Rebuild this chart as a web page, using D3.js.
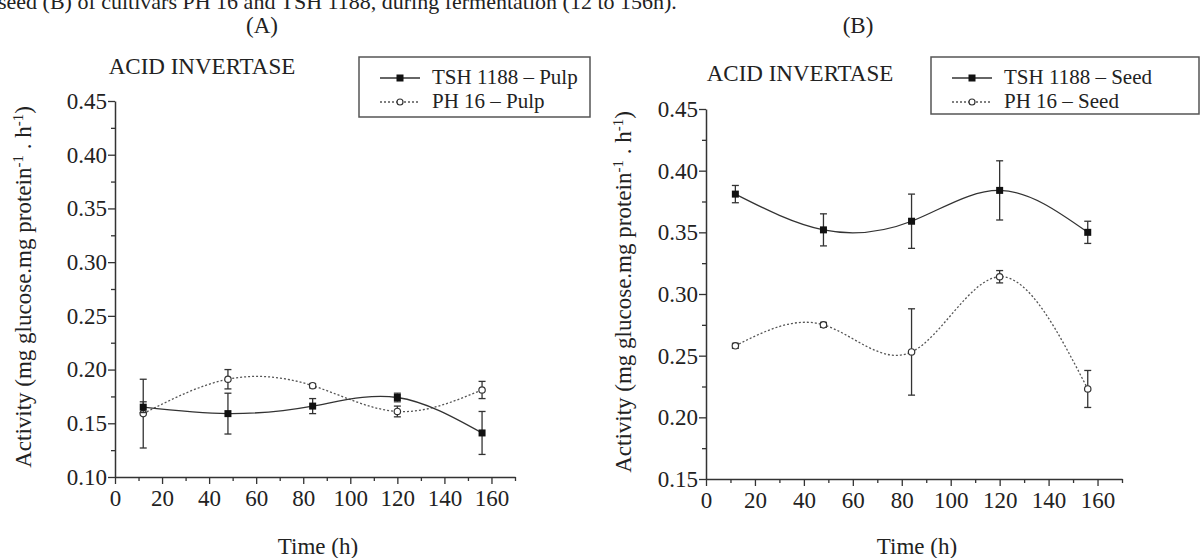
<!DOCTYPE html>
<html>
<head>
<meta charset="utf-8">
<script src="https://cdn.jsdelivr.net/npm/d3@7"></script>
<style>
  body { margin: 0; background: #fff; }
  svg text { font-family: "Liberation Serif", "Times New Roman", serif !important; }
</style>
</head>
<body>
<svg id="chart" width="1201" height="558"></svg>
<script>
// sampling times (h)
var times = [12, 48, 84, 120, 156];

// pulp (A)
var pulpTSH    = [0.165, 0.159, 0.166, 0.174, 0.141];
var pulpTSHErr = [0.005, 0.019, 0.007, 0.004, 0.020];
var pulpPH     = [0.159, 0.191, 0.185, 0.161, 0.181];
var pulpPHErr  = [0.032, 0.009, 0.002, 0.005, 0.008];

// seed (B)
var seedTSH    = [0.381, 0.352, 0.359, 0.384, 0.350];
var seedTSHErr = [0.007, 0.013, 0.022, 0.024, 0.009];
var seedPH     = [0.258, 0.275, 0.253, 0.314, 0.223];
var seedPHErr  = [0.002, 0.002, 0.035, 0.005, 0.015];

var xTicks = [0, 20, 40, 60, 80, 100, 120, 140, 160];
var caption = "seed (B) of cultivars PH 16 and TSH 1188, during fermentation (12 to 156h).";

var svg = d3.select("#chart");
var ink = "#222";

function toPoints(vals, errs) {
    return times.map(function(t, i) { return { t: t, v: vals[i], e: errs[i] }; });
}

// caption line, cut off at the top as in the source figure
svg.append("text")
    .attr("x", -2).attr("y", 9)
    .attr("font-size", 22).attr("fill", ink)
    .text(caption);

function drawPanel(p) {
    var x = d3.scaleLinear().domain([0, 170]).range([p.left, p.right]);
    var y = d3.scaleLinear().domain(p.yDomain).range([p.bottom, p.top]);
    var g = svg.append("g");

    // panel letter + title
    g.append("text").attr("x", p.letterX).attr("y", 33)
        .attr("text-anchor", "middle").attr("font-size", 23).attr("fill", ink)
        .text(p.letter);
    g.append("text").attr("x", p.titleX).attr("y", p.titleY)
        .attr("text-anchor", "middle").attr("font-size", 23).attr("fill", ink)
        .text("ACID INVERTASE");

    // axes: major ticks labelled, minor ticks between
    var xMinor = d3.range(10, 171, 20);
    var yMajor = d3.range(p.yDomain[0], p.yDomain[1] + 0.001, 0.05);
    var yMinor = d3.range(p.yDomain[0] + 0.025, p.yDomain[1], 0.05);

    g.append("g").attr("transform", "translate(0," + p.bottom + ")")
        .call(d3.axisBottom(x).tickValues(xTicks).tickSize(7).tickPadding(6).tickSizeOuter(0));
    g.append("g").attr("transform", "translate(0," + p.bottom + ")")
        .call(d3.axisBottom(x).tickValues(xMinor).tickSize(4).tickFormat("").tickSizeOuter(0))
        .select(".domain").remove();

    g.append("g").attr("transform", "translate(" + p.left + ",0)")
        .call(d3.axisLeft(y).tickValues(yMajor)
            .tickFormat(d3.format(".2f")).tickSize(7).tickPadding(1).tickSizeOuter(0));
    g.append("g").attr("transform", "translate(" + p.left + ",0)")
        .call(d3.axisLeft(y).tickValues(yMinor).tickSize(4).tickFormat("").tickSizeOuter(0))
        .select(".domain").remove();

    g.selectAll(".tick line").attr("stroke", "#333").attr("stroke-width", 1.3);
    g.selectAll(".domain").attr("stroke", "#333").attr("stroke-width", 1.5);
    g.selectAll(".tick text").attr("font-size", 23).attr("fill", ink);

    // axis titles
    g.append("text")
        .attr("x", (x(0) + x(170)) / 2 + 3).attr("y", 554)
        .attr("text-anchor", "middle").attr("font-size", 23).attr("fill", ink)
        .text("Time (h)");

    var yl = g.append("text")
        .attr("transform", "translate(" + p.yLabelX + "," + ((p.top + p.bottom) / 2 - 2) + ") rotate(-90)")
        .attr("text-anchor", "middle").attr("font-size", 23).attr("fill", ink);
    yl.append("tspan").text("Activity (mg glucose.mg protein");
    yl.append("tspan").attr("dy", -8).attr("font-size", 15).text("-1");
    yl.append("tspan").attr("dy", 8).text(" . h");
    yl.append("tspan").attr("dy", -8).attr("font-size", 15).text("-1");
    yl.append("tspan").attr("dy", 8).text(")");

    var line = d3.line()
        .x(function(d) { return x(d.t); })
        .y(function(d) { return y(d.v); })
        .curve(d3.curveNatural);

    function series(pts, dashed, filled) {
        g.append("path").datum(pts)
            .attr("d", line)
            .attr("fill", "none")
            .attr("stroke", dashed ? "#555" : "#333")
            .attr("stroke-width", 1.3)
            .attr("stroke-dasharray", dashed ? "2,2" : null);

        var eb = g.append("g").selectAll("g").data(pts).enter().append("g")
            .attr("stroke", "#333").attr("stroke-width", 1.3);
        eb.append("line")
            .attr("x1", function(d) { return x(d.t); }).attr("x2", function(d) { return x(d.t); })
            .attr("y1", function(d) { return y(d.v + d.e); }).attr("y2", function(d) { return y(d.v - d.e); });
        eb.append("line")
            .attr("x1", function(d) { return x(d.t) - 3.5; }).attr("x2", function(d) { return x(d.t) + 3.5; })
            .attr("y1", function(d) { return y(d.v + d.e); }).attr("y2", function(d) { return y(d.v + d.e); });
        eb.append("line")
            .attr("x1", function(d) { return x(d.t) - 3.5; }).attr("x2", function(d) { return x(d.t) + 3.5; })
            .attr("y1", function(d) { return y(d.v - d.e); }).attr("y2", function(d) { return y(d.v - d.e); });

        if (filled) {
            g.append("g").selectAll("rect").data(pts).enter().append("rect")
                .attr("x", function(d) { return x(d.t) - 3.5; })
                .attr("y", function(d) { return y(d.v) - 3.5; })
                .attr("width", 7).attr("height", 7)
                .attr("fill", "#111");
        } else {
            g.append("g").selectAll("circle").data(pts).enter().append("circle")
                .attr("cx", function(d) { return x(d.t); })
                .attr("cy", function(d) { return y(d.v); })
                .attr("r", 3.2)
                .attr("fill", "#fff").attr("stroke", "#333").attr("stroke-width", 1.2);
        }
    }

    series(p.ph, true, false);
    series(p.tsh, false, true);

    // legend
    var lg = g.append("g");
    lg.append("rect")
        .attr("x", p.legX).attr("y", 57).attr("width", p.legW).attr("height", p.legH)
        .attr("fill", "#fff").attr("stroke", "#555").attr("stroke-width", 1.5);
    var rows = [
        { label: p.names[0], y: 78, dashed: false },
        { label: p.names[1], y: 102, dashed: true }
    ];
    rows.forEach(function(r) {
        var sx = p.legX + 21;
        lg.append("line")
            .attr("x1", sx).attr("x2", sx + 40).attr("y1", r.y).attr("y2", r.y)
            .attr("stroke", r.dashed ? "#555" : "#333").attr("stroke-width", 1.3)
            .attr("stroke-dasharray", r.dashed ? "2,2" : null);
        if (r.dashed) {
            lg.append("circle").attr("cx", sx + 20).attr("cy", r.y).attr("r", 3)
                .attr("fill", "#fff").attr("stroke", "#333").attr("stroke-width", 1.2);
        } else {
            lg.append("rect").attr("x", sx + 16.5).attr("y", r.y - 3.5)
                .attr("width", 7).attr("height", 7).attr("fill", "#111");
        }
        lg.append("text").attr("x", sx + 52).attr("y", r.y + 6)
            .attr("font-size", 21).attr("fill", ink).text(r.label);
    });
}

drawPanel({
    letter: "(A)", letterX: 262, titleX: 202, titleY: 74,
    left: 115, right: 515, top: 101, bottom: 477, yDomain: [0.10, 0.45],
    yLabelX: 31,
    tsh: toPoints(pulpTSH, pulpTSHErr), ph: toPoints(pulpPH, pulpPHErr),
    names: ["TSH 1188 \u2013 Pulp", "PH 16 \u2013 Pulp"],
    legX: 359, legW: 231, legH: 60
});

drawPanel({
    letter: "(B)", letterX: 858, titleX: 800, titleY: 81,
    left: 706, right: 1122, top: 109, bottom: 479, yDomain: [0.15, 0.45],
    yLabelX: 631,
    tsh: toPoints(seedTSH, seedTSHErr), ph: toPoints(seedPH, seedPHErr),
    names: ["TSH 1188 \u2013 Seed", "PH 16 \u2013 Seed"],
    legX: 931, legW: 268, legH: 57
});
</script>
</body>
</html>
